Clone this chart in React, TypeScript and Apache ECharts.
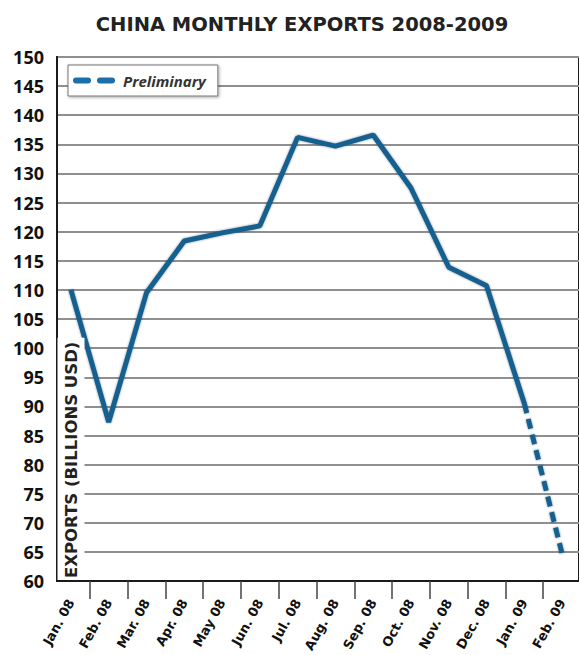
import React, { useEffect, useRef } from "react";
import * as echarts from "echarts";

const categories = [
  "Jan. 08", "Feb. 08", "Mar. 08", "Apr. 08", "May 08", "Jun. 08", "Jul. 08",
  "Aug. 08", "Sep. 08", "Oct. 08", "Nov. 08", "Dec. 08", "Jan. 09", "Feb. 09",
];
const exportsValues = [110, 87.3, 109.5, 118.4, 119.8, 121, 136.2, 134.7, 136.6, 127.5, 113.9, 110.7, 90.5, null];
const preliminaryValues = [null, null, null, null, null, null, null, null, null, null, null, null, 90.5, 64.7];
const yTicks = [60, 150, 5];

const FONT = "'Open Sans', 'Noto Sans', sans-serif";
const DJ = "'DejaVu Sans', 'Open Sans', sans-serif";
const LINE_COLOR = "#15618f";
const DASH_ICON =
  "path://M3,0H15A3,3 0 0 1 15,6H3A3,3 0 0 1 3,0Z M27,0H39A3,3 0 0 1 39,6H27A3,3 0 0 1 27,0Z";

export default function App() {
  const ref = useRef<HTMLDivElement>(null);
  useEffect(() => {
    if (!ref.current) return;
    const chart = echarts.init(ref.current, null, { renderer: "svg" });
    const toPairs = (arr: (number | null)[]) =>
      arr.map((v, i) => (v == null ? null : [i, v])).filter((d) => d !== null);
    const tickVals = categories.slice(1).map((_, i) => i + 0.5);
    const labelVals = categories.map((_, i) => i);
    chart.setOption({
      animation: false,
      backgroundColor: "#fff",
      title: {
        text: "CHINA MONTHLY EXPORTS 2008-2009",
        left: 297,
        textAlign: "center",
        top: 9,
        textStyle: { fontFamily: DJ, fontWeight: "bold", fontSize: 19.5, color: "#222" },
      },
      legend: {
        data: [{ name: "Preliminary", icon: DASH_ICON }],
        left: 68,
        top: 65,
        itemWidth: 42,
        itemHeight: 6,
        padding: [8, 12, 8, 5],
        backgroundColor: "#fff",
        borderColor: "#777",
        borderWidth: 1,
        shadowBlur: 3,
        shadowColor: "rgba(0,0,0,0.35)",
        shadowOffsetX: 1,
        shadowOffsetY: 1,
        itemStyle: { color: "#1a70a8" },
        textStyle: { fontFamily: FONT, fontStyle: "italic", fontWeight: "bold", fontSize: 15, color: "#333", padding: [0, 0, 0, 3] },
      },
      grid: {
        left: 57,
        right: -3,
        top: 57,
        bottom: 72,
        show: true,
        borderColor: "#1a1a1a",
        borderWidth: 2,
        backgroundColor: "#fff",
      },
      xAxis: {
        type: "value",
        min: -0.368,
        max: 13.447,
        axisLine: { show: true, onZero: false, lineStyle: { color: "#1a1a1a", width: 2 } },
        splitLine: { show: false },
        axisTick: {
          show: true,
          customValues: tickVals,
          length: 18,
          lineStyle: { color: "#444", width: 1.5 },
        },
        axisLabel: {
          customValues: labelVals,
          rotate: 61,
          margin: 19,
          fontFamily: DJ,
          fontWeight: "bold",
          fontSize: 13,
          color: "#111",
          formatter: (v: number) => categories[Math.round(v)] ?? "",
        },
      },
      yAxis: {
        type: "value",
        min: yTicks[0],
        max: yTicks[1],
        interval: yTicks[2],
        axisLine: { show: true, onZero: false, lineStyle: { color: "#1a1a1a", width: 2 } },
        axisTick: { show: false },
        axisLabel: {
          margin: 13,
          fontFamily: FONT,
          fontWeight: "bold",
          fontSize: 18,
          color: "#111",
        },
        splitLine: {
          show: true,
          lineStyle: { color: "#8f8f8f", width: 2 },
        },
      },
      graphic: [
        {
          type: "text",
          x: 71,
          y: 580,
          rotation: Math.PI / 2,
          z: 50,
          style: {
            text: "EXPORTS (BILLIONS USD)",
            fontFamily: DJ,
            fontWeight: "bold",
            fontSize: 16.5,
            fill: "#222",
            align: "left",
            verticalAlign: "middle",
            backgroundColor: "#fff",
            padding: [5, 4, 5, 2],
          },
        },
      ],
      series: [
        {
          name: "Exports",
          type: "line",
          data: toPairs(exportsValues),
          symbol: "none",
          lineStyle: {
            color: LINE_COLOR,
            width: 5,
            shadowColor: "rgba(0,30,60,0.5)",
            shadowBlur: 2,
          },
          itemStyle: { color: LINE_COLOR },
          z: 10,
        },
        {
          name: "Preliminary",
          type: "line",
          data: toPairs(preliminaryValues),
          symbol: "none",
          lineStyle: {
            color: LINE_COLOR,
            width: 5,
            type: [10, 6],
            shadowColor: "rgba(0,30,60,0.5)",
            shadowBlur: 2,
          },
          itemStyle: { color: LINE_COLOR },
          z: 10,
        },
      ],
    });
    return () => chart.dispose();
  }, []);
  return <div ref={ref} style={{ width: 579, height: 655, position: "absolute", left: 0, top: 0 }} />;
}
